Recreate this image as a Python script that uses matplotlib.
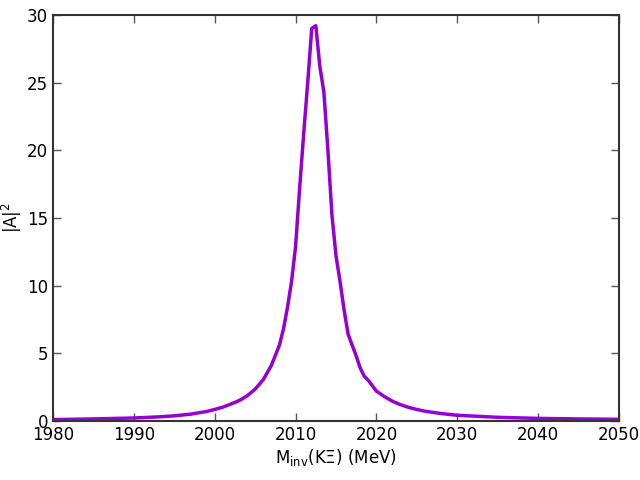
import numpy as np
import matplotlib
matplotlib.use("Agg")
import matplotlib.pyplot as plt

# invariant mass (MeV) and |A|^2
m_inv = [1980, 1985, 1990, 1993, 1995, 1997, 1999, 2000, 2001, 2002,
         2003, 2004, 2005, 2006, 2007,
         2008, 2008.5, 2009, 2009.5, 2010, 2010.5, 2011, 2011.5, 2012, 2012.5,
         2013, 2013.5, 2014, 2014.5, 2015, 2015.5, 2016, 2016.5, 2017, 2017.5,
         2018, 2018.5, 2019, 2019.5, 2020, 2021, 2022, 2023, 2024, 2025,
         2026, 2028, 2030, 2035, 2040, 2045, 2050]
amp2 = [0.10, 0.15, 0.22, 0.30, 0.38, 0.50, 0.70, 0.85, 1.02, 1.25,
        1.50, 1.85, 2.35, 3.05, 4.10,
        5.60, 6.80, 8.40, 10.3, 12.9, 17.2, 21.2, 25.0, 29.0, 29.2,
        26.2, 24.3, 20.0, 15.2, 12.2, 10.3, 8.2, 6.4, 5.6, 4.8,
        3.9, 3.3, 3.0, 2.6, 2.2, 1.8, 1.45, 1.2, 1.0, 0.85,
        0.72, 0.55, 0.42, 0.27, 0.19, 0.15, 0.12]

plt.rcParams['font.family'] = 'DejaVu Sans'
plt.rcParams['font.size'] = 12
plt.rcParams['mathtext.default'] = 'regular'
plt.rcParams['xtick.direction'] = 'in'
plt.rcParams['ytick.direction'] = 'in'
plt.rcParams['xtick.top'] = True
plt.rcParams['ytick.right'] = True
plt.rcParams['xtick.major.size'] = 6
plt.rcParams['ytick.major.size'] = 6

fig, ax = plt.subplots(figsize=(6.4, 4.8), dpi=100)
ax.plot(m_inv, amp2, color='darkviolet', lw=2.5)
ax.set_xlim(1980, 2050)
ax.set_ylim(0, 30)
ax.set_xticks(np.arange(1980, 2051, 10))
ax.set_yticks(np.arange(0, 31, 5))
for s in ax.spines.values():
    s.set_color('#333333')
    s.set_linewidth(1.5)
ax.tick_params(colors='#555555', labelcolor='black', width=1)
ax.set_xlabel(r'M$_{inv}$(KΞ) (MeV)', labelpad=2)
ax.set_ylabel(r'|A|$^2$', labelpad=2)
plt.subplots_adjust(left=0.083, right=0.967, top=0.969, bottom=0.123)
plt.savefig('out.png', dpi=100)
